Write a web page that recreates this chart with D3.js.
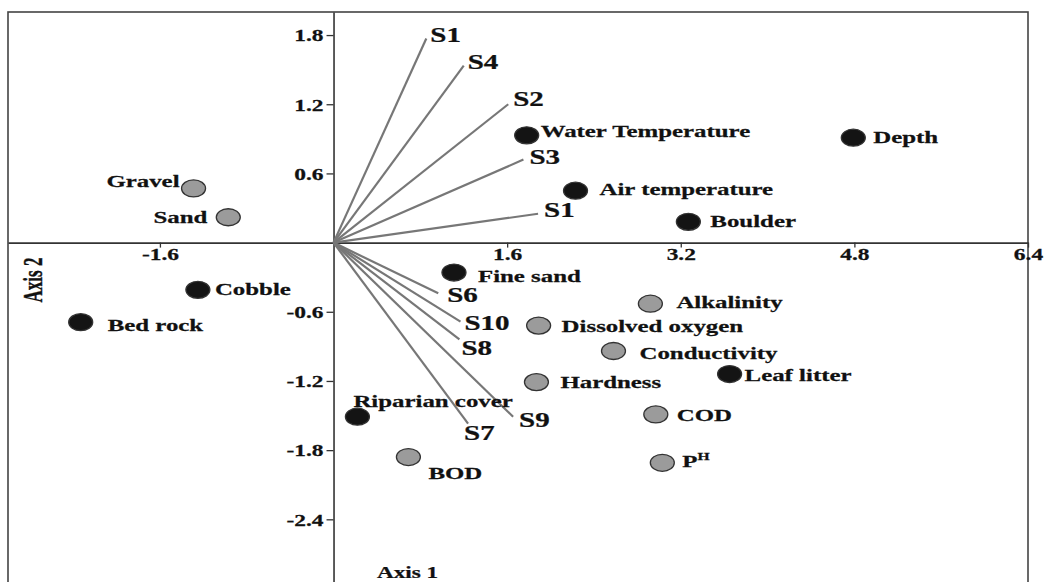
<!DOCTYPE html>
<html lang="en">
<head>
    <meta charset="UTF-8">
    <title>Ordination biplot</title>
    <script src="https://cdnjs.cloudflare.com/ajax/libs/d3/7.8.5/d3.min.js"></script>
    <style>
        body { margin: 0; background: #fff; }
        svg { display: block; }
        text { font-family: "Liberation Serif", "Times New Roman", serif; font-weight: bold; fill: #111; stroke: #111; stroke-width: 0.25px; }
    </style>
</head>
<body>
    <svg id="chart" width="1047" height="582"></svg>
    <script>
        // Species vectors (arrow ends, axis units)
        const speciesNames = ["S1", "S4", "S2", "S3", "S1", "S6", "S10", "S8", "S9", "S7"];
        const speciesX = [0.855, 1.20, 1.61, 1.75, 1.885, 0.965, 1.17, 1.16, 1.655, 1.24];
        const speciesY = [1.77, 1.535, 1.20, 0.72, 0.25, -0.44, -0.685, -0.84, -1.51, -1.57];

        // Habitat variables (black points)
        const habitatNames = ["Water Temperature", "Air temperature", "Boulder", "Depth", "Fine sand",
                              "Cobble", "Bed rock", "Leaf litter", "Riparian cover"];
        const habitatX = [1.78, 2.23, 3.27, 4.79, 1.11, -1.25, -2.33, 3.65, 0.22];
        const habitatY = [0.93, 0.45, 0.18, 0.91, -0.26, -0.41, -0.69, -1.14, -1.51];

        // Water quality / substrate variables (grey points)
        const qualityNames = ["Gravel", "Sand", "Alkalinity", "Dissolved oxygen", "Conductivity",
                              "Hardness", "COD", "PH", "BOD"];
        const qualityX = [-1.29, -0.97, 2.92, 1.89, 2.58, 1.87, 2.97, 3.03, 0.69];
        const qualityY = [0.47, 0.22, -0.53, -0.72, -0.94, -1.21, -1.49, -1.91, -1.86];

        const xTicks = [-1.6, 1.6, 3.2, 4.8, 6.4];
        const yTicks = [1.8, 1.2, 0.6, -0.6, -1.2, -1.8, -2.4];

        // label placement relative to the mark [dx, dy, anchor]
        const speciesLabelPos = [[4, -4], [4, -4], [5, -5], [6, -3], [6, -4], [9, 2], [4, 1], [2, 9], [6, 3], [-4, 9]];
        const pointLabelPos = {
            "Water Temperature": [14, -5], "Air temperature": [24, -2], "Boulder": [22, -1], "Depth": [20, -1],
            "Fine sand": [24, 3], "Cobble": [17, -1], "Bed rock": [27, 3], "Leaf litter": [15, 1],
            "Riparian cover": [-4, -16], "Gravel": [-14, -8, "end"], "Sand": [-21, 0, "end"],
            "Alkalinity": [26, -2], "Dissolved oxygen": [23, 0], "Conductivity": [26, 2], "Hardness": [24, 0],
            "COD": [21, 0], "PH": [20, -2], "BOD": [20, 16]
        };

        const SX = 1.42; // horizontal stretch of the lettering
        const svg = d3.select("#chart");

        const x = d3.scaleLinear().domain([-3, 6.4]).range([8, 1028]);
        const y = d3.scaleLinear().domain([-3, 2]).range([588.5, 12]);
        const fmt = d => d3.format(".1f")(d).replace("−", "-");

        // Frame
        svg.append("rect")
            .attr("x", x(-3)).attr("y", y(2))
            .attr("width", x(6.4) - x(-3)).attr("height", y(-3) - y(2))
            .attr("fill", "none").attr("stroke", "#444").attr("stroke-width", 1.6);

        // Axes through origin
        const xAxis = svg.append("g")
            .attr("transform", `translate(0,${y(0)})`)
            .call(d3.axisBottom(x).tickValues(xTicks).tickSize(5).tickSizeOuter(0).tickFormat(fmt));
        const yAxis = svg.append("g")
            .attr("transform", `translate(${x(0)},0)`)
            .call(d3.axisLeft(y).tickValues(yTicks).tickSize(7).tickSizeOuter(0).tickFormat(fmt));
        svg.selectAll(".domain").attr("stroke", "#333").attr("stroke-width", 1.6);
        svg.selectAll(".tick line").attr("stroke", "#333").attr("stroke-width", 1.3);
        xAxis.selectAll(".tick text")
            .attr("x", 0).attr("y", 12).attr("dy", "0.35em")
            .attr("font-size", 16.5).attr("font-family", null)
            .attr("transform", `scale(${SX},1)`);
        yAxis.selectAll(".tick text")
            .attr("x", -10 / SX).attr("dy", "0.35em")
            .attr("font-size", 16.5).attr("font-family", null)
            .attr("transform", `scale(${SX},1)`);

        // Species vectors
        const species = speciesNames.map((n, i) => ({ name: n, x: speciesX[i], y: speciesY[i], pos: speciesLabelPos[i] }));
        svg.append("g").selectAll("line")
            .data(species).enter().append("line")
            .attr("x1", x(0)).attr("y1", y(0))
            .attr("x2", d => x(d.x)).attr("y2", d => y(d.y))
            .attr("stroke", "#777").attr("stroke-width", 2.2);
        svg.append("g").selectAll("text")
            .data(species).enter().append("text")
            .attr("transform", d => `translate(${x(d.x) + d.pos[0]},${y(d.y) + d.pos[1]}) scale(1.45,1)`)
            .attr("dy", "0.35em")
            .attr("font-size", 20)
            .text(d => d.name);

        // Points
        const points = habitatNames.map((n, i) => ({ name: n, x: habitatX[i], y: habitatY[i], fill: "#141414" }))
            .concat(qualityNames.map((n, i) => ({ name: n, x: qualityX[i], y: qualityY[i], fill: "#9b9b9b" })));

        svg.append("g").selectAll("ellipse")
            .data(points).enter().append("ellipse")
            .attr("cx", d => x(d.x)).attr("cy", d => y(d.y))
            .attr("rx", 12).attr("ry", 8.5)
            .attr("fill", d => d.fill)
            .attr("stroke", "#333").attr("stroke-width", 1.3);

        const labels = svg.append("g").selectAll("text")
            .data(points).enter().append("text")
            .attr("transform", d => {
                const p = pointLabelPos[d.name];
                return `translate(${x(d.x) + p[0]},${y(d.y) + p[1]}) scale(${SX},1)`;
            })
            .attr("text-anchor", d => pointLabelPos[d.name][2] || "start")
            .attr("dy", "0.35em")
            .attr("font-size", 17.5);
        labels.each(function(d) {
            const t = d3.select(this);
            if (d.name === "PH") {
                t.append("tspan").text("P");
                t.append("tspan").text("H").attr("font-size", 11).attr("dy", -7);
            } else {
                t.text(d.name);
            }
        });

        // Axis titles
        svg.append("text")
            .attr("transform", `translate(${x(0.4)},572) scale(1.45,1)`)
            .attr("dy", "0.35em")
            .attr("font-size", 16)
            .text("Axis 1");
        svg.append("text")
            .attr("transform", `translate(33,280) scale(1.55,1) rotate(-90)`)
            .attr("text-anchor", "middle")
            .attr("dy", "0.35em")
            .attr("font-size", 17)
            .text("Axis 2");
    </script>
</body>
</html>
